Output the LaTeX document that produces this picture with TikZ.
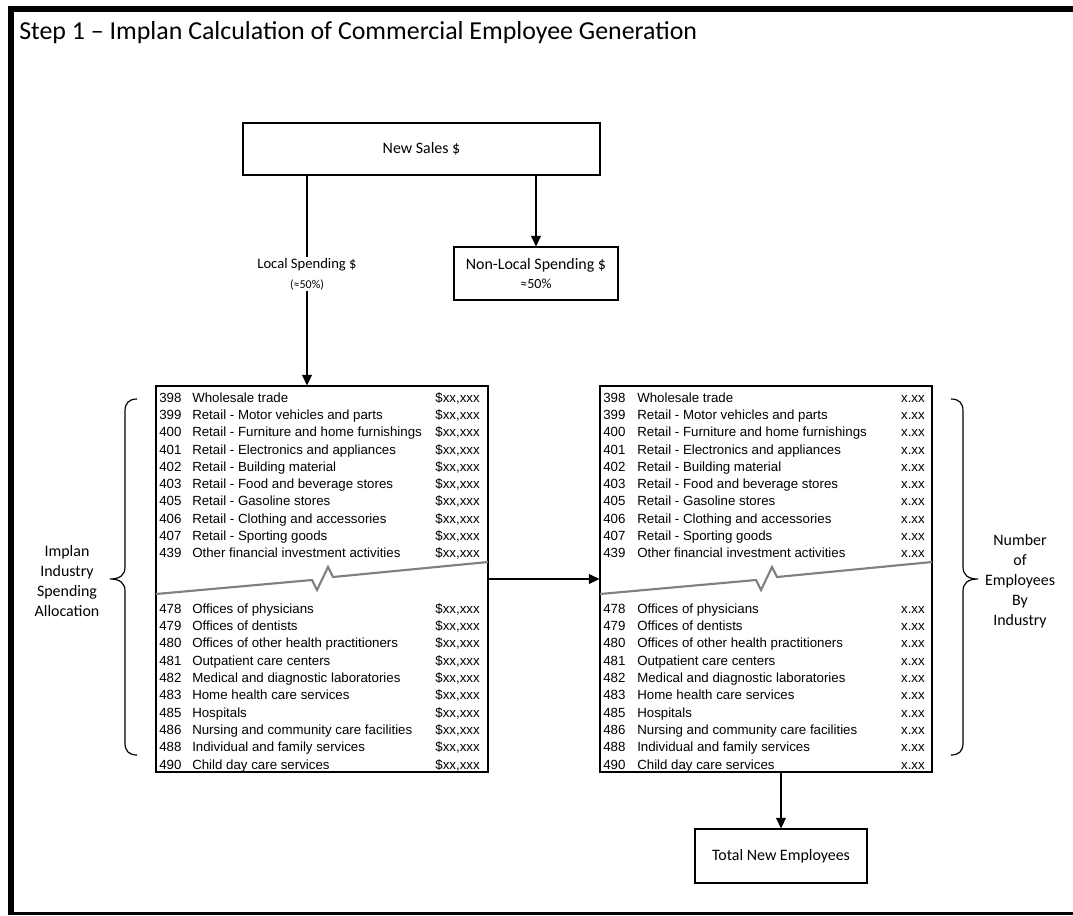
\documentclass[tikz,border=0pt]{standalone}
\usepackage{fontspec}
\setmainfont{Carlito}
\newfontfamily\tablefont{Liberation Sans}
\usetikzlibrary{arrows.meta}

\begin{document}
\begin{tikzpicture}[x=0.75bp, y=-0.75bp,
	box/.style={draw, line width=0.9pt, inner sep=0pt, align=center, font=\fontsize{12}{16}\selectfont},
	listbox/.style={draw, line width=0.9pt, inner sep=0pt, minimum width=249bp, minimum height=289.5bp},
	row/.style={anchor=base west, inner sep=0pt, font=\tablefont\fontsize{10}{12}\selectfont},
	val/.style={row, anchor=base east},
	flow/.style={->, >={Triangle[length=8pt,width=7.5pt]}, line width=0.9pt},
	cut/.style={draw=black!50, line width=1.6pt},
	curly/.style={line width=0.9pt}]
	\useasboundingbox (0,0) rectangle (1073,915);

	% Heavy frame round the sheet, kept inside the page
	\fill (8,6) rectangle (1073,12);
	\fill (8,6) rectangle (14,915);
	\fill (8,912) rectangle (1073,915);
	\node[anchor=west, inner sep=0pt, font=\fontsize{19.5}{23}\selectfont] (title) at (19,33)
		{Step 1 – Implan Calculation of Commercial Employee Generation};

	% Sales split
	\node[box, minimum width=267.75bp, minimum height=39bp] (sales) at (421.5,149) {New Sales \$};
	\node[box, minimum width=123bp, minimum height=39.75bp] (nonlocal) at (536,273.5)
		{Non-Local Spending \$\\[-2pt]{\fontsize{10.5}{12}\selectfont ≈50\%}};

	% The two industry tables
	\node[listbox] (spend) at (322,579) {};
	\node[listbox] (emp) at (766,579) {};
	\node[box, minimum width=129bp, minimum height=40.5bp] (total) at (781,856) {Total New Employees};

	% Rows above the break
	\foreach \code/\name [count=\i from 0] in {398/Wholesale trade, 399/Retail - Motor vehicles and parts,
			400/Retail - Furniture and home furnishings, 401/Retail - Electronics and appliances,
			402/Retail - Building material, 403/Retail - Food and beverage stores,
			405/Retail - Gasoline stores, 406/Retail - Clothing and accessories,
			407/Retail - Sporting goods, 439/Other financial investment activities} {
		\pgfmathsetmacro{\y}{402+17.33*\i}
		\node[row] (sc\code) at (159,\y) {\code};
		\node[row] (sn\code) at (192,\y) {\name};
		\node[val] (sv\code) at (480,\y) {\$xx,xxx};
		\node[row] (ec\code) at (603,\y) {\code};
		\node[row] (en\code) at (637,\y) {\name};
		\node[val] (ev\code) at (925,\y) {x.xx};
	}

	% Rows below the break
	\foreach \code/\name [count=\i from 0] in {478/Offices of physicians, 479/Offices of dentists,
			480/Offices of other health practitioners, 481/Outpatient care centers,
			482/Medical and diagnostic laboratories, 483/Home health care services,
			485/Hospitals, 486/Nursing and community care facilities,
			488/Individual and family services, 490/Child day care services} {
		\pgfmathsetmacro{\y}{613+17.35*\i}
		\node[row] (sc\code) at (159,\y) {\code};
		\node[row] (sn\code) at (192,\y) {\name};
		\node[val] (sv\code) at (480,\y) {\$xx,xxx};
		\node[row] (ec\code) at (603,\y) {\code};
		\node[row] (en\code) at (637,\y) {\name};
		\node[val] (ev\code) at (925,\y) {x.xx};
	}

	% Break marks across both tables
	\foreach \dx in {0,444} {
		\draw[cut] (156+\dx,594) -- (312+\dx,580) -- (317+\dx,590) -- (328+\dx,567)
			-- (333+\dx,577) -- (488+\dx,562);
	}

	% Braces and their labels
	\draw[curly] (137,399) .. controls (129,399) and (125,403) .. (125,411) -- (125,567)
		.. controls (125,575) and (120,579) .. (110,579) .. controls (120,579) and (125,583) .. (125,591)
		-- (125,743) .. controls (125,751) and (129,755) .. (137,755);
	\draw[curly] (951,399) .. controls (959,399) and (963,403) .. (963,411) -- (963,567)
		.. controls (963,575) and (968,579) .. (978,579) .. controls (968,579) and (963,583) .. (963,591)
		-- (963,743) .. controls (963,751) and (959,755) .. (951,755);
	\node[align=center, font=\fontsize{12}{15}\selectfont] (alloc) at (67,581)
		{Implan\\Industry\\Spending\\Allocation};
	\node[align=center, font=\fontsize{12}{15}\selectfont] (count) at (1020,581)
		{Number\\of\\Employees\\By\\Industry};

	% Flows
	\coordinate (local) at (307,0);
	\draw[flow] (sales.south -| local) -- node[pos=0.47, fill=white, inner sep=1pt, align=center,
			font=\fontsize{11}{15}\selectfont] (locallabel)
		{Local Spending \$\\{\fontsize{9}{11}\selectfont(≈50\%)}} (spend.north -| local);
	\draw[flow] (sales.south -| nonlocal.north) -- (nonlocal.north);
	\draw[flow] (spend.east) -- (emp.west);
	\draw[flow] (emp.south -| total.north) -- (total.north);
\end{tikzpicture}
\end{document}
